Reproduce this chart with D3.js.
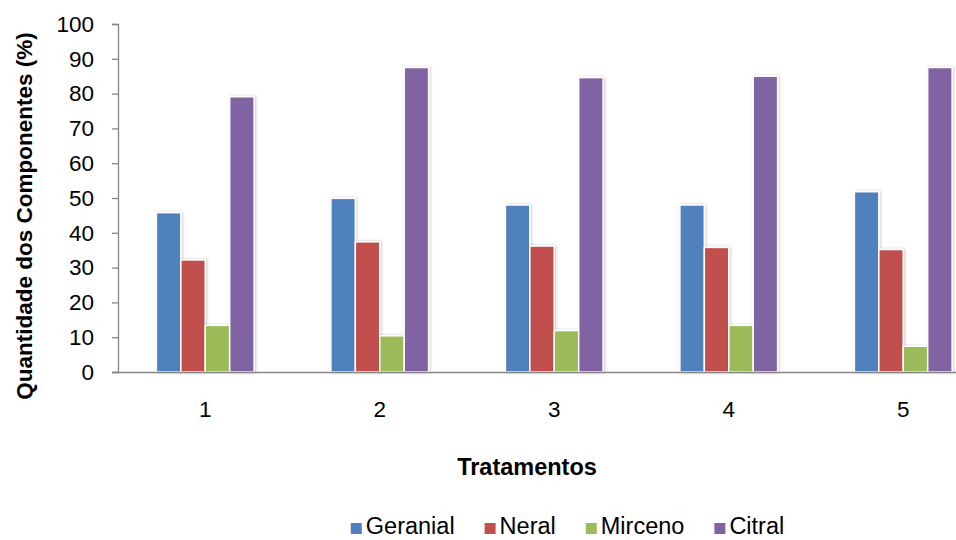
<!DOCTYPE html>
<html>

<head>
    <meta charset="utf-8">
    <script src="https://d3js.org/d3.v7.min.js"></script>
    <style>
        body { margin: 0; background: white; }
    </style>
    <script>
        const width = 956
        const height = 540
        const fontFamily = "'Liberation Sans', Arial, sans-serif"

        const categories = ["1", "2", "3", "4", "5"]
        const seriesNames = ["Geranial", "Neral", "Mirceno", "Citral"]
        const seriesColors = ["#4F81BD", "#C0504D", "#9BBB59", "#8064A2"]
        const geranial = [45.8, 49.9, 48.0, 48.0, 51.8]
        const neral = [32.2, 37.4, 36.2, 35.8, 35.2]
        const mirceno = [13.4, 10.4, 11.9, 13.4, 7.4]
        const citral = [79.1, 87.5, 84.6, 85.0, 87.5]
        const yTicks = [0, 10, 20, 30, 40, 50, 60, 70, 80, 90, 100]

        const seriesValues = [geranial, neral, mirceno, citral]

        function initialize() {
            const svg = d3.select("body").append("svg").attr("width", width).attr("height", height)

            // soft shadow like the office chart bars
            const defs = svg.append("defs")
            const filter = defs.append("filter").attr("id", "shadow")
                .attr("x", "-30%").attr("y", "-5%").attr("width", "160%").attr("height", "110%")
            filter.append("feDropShadow")
                .attr("dx", 1).attr("dy", 0).attr("stdDeviation", 1.5)
                .attr("flood-color", "#000").attr("flood-opacity", 0.22)

            const x0 = d3.scaleBand()
                .domain(categories)
                .range([118, 990.5])
                .paddingInner(0.44)
                .paddingOuter(0.22)
            const x1 = d3.scaleBand()
                .domain(seriesNames)
                .range([0, x0.bandwidth()])
            const y = d3.scaleLinear()
                .domain([0, 100])
                .range([372, 24])

            // bars
            const groups = svg.selectAll(".group")
                .data(categories)
                .join("g")
                .attr("class", "group")
                .attr("transform", (d) => `translate(${x0(d)},0)`)

            groups.selectAll("rect")
                .data((d, i) => seriesNames.map((name, s) => ({ name: name, value: seriesValues[s][i], color: seriesColors[s] })))
                .join("rect")
                .attr("x", (d) => x1(d.name))
                .attr("y", (d) => y(d.value))
                .attr("width", x1.bandwidth())
                .attr("height", (d) => y(0) - y(d.value))
                .attr("fill", (d) => d.color)
                .attr("stroke", "white")
                .attr("stroke-width", 1.5)
                .attr("filter", "url(#shadow)")

            // y axis
            const yAxis = svg.append("g")
                .attr("transform", "translate(118,0)")
                .call(d3.axisLeft(y).tickValues(yTicks).tickSize(6).tickPadding(18))
            yAxis.selectAll("path, line").attr("stroke", "#868686").attr("stroke-width", 1.3)
            yAxis.selectAll("text")
                .style("font-family", fontFamily)
                .style("font-size", "22.5px")
                .attr("fill", "#000")

            // x axis
            const xAxis = svg.append("g")
                .attr("transform", `translate(0,${y(0)})`)
                .call(d3.axisBottom(x0).tickSize(0).tickPadding(29))
            xAxis.select(".domain").attr("d", `M112,0.5H${width}`).attr("stroke", "#868686").attr("stroke-width", 1.3)
            xAxis.selectAll("text")
                .style("font-family", fontFamily)
                .style("font-size", "22.5px")
                .attr("fill", "#000")

            // axis titles
            svg.append("text")
                .attr("transform", "translate(32,216) rotate(-90)")
                .attr("text-anchor", "middle")
                .style("font-family", fontFamily)
                .style("font-weight", "bold")
                .style("font-size", "22.5px")
                .text("Quantidade dos Componentes (%)")

            svg.append("text")
                .attr("x", 527)
                .attr("y", 475)
                .attr("text-anchor", "middle")
                .style("font-family", fontFamily)
                .style("font-weight", "bold")
                .style("font-size", "23.5px")
                .text("Tratamentos")

            // legend
            const legend = svg.append("g")
            let lx = 0
            seriesNames.forEach((name, i) => {
                const item = legend.append("g").attr("transform", `translate(${lx},0)`)
                item.append("rect")
                    .attr("x", 0).attr("y", -11)
                    .attr("width", 11).attr("height", 11)
                    .attr("fill", seriesColors[i])
                const t = item.append("text")
                    .attr("x", 15)
                    .attr("y", 0)
                    .style("font-family", fontFamily)
                    .style("font-size", "23.5px")
                    .text(name)
                lx += 15 + t.node().getComputedTextLength() + 30
            })
            const legendWidth = lx - 30
            legend.attr("transform", `translate(${567.5 - legendWidth / 2},534)`)
        }
    </script>
</head>

<body onload="initialize()">
</body>

</html>
